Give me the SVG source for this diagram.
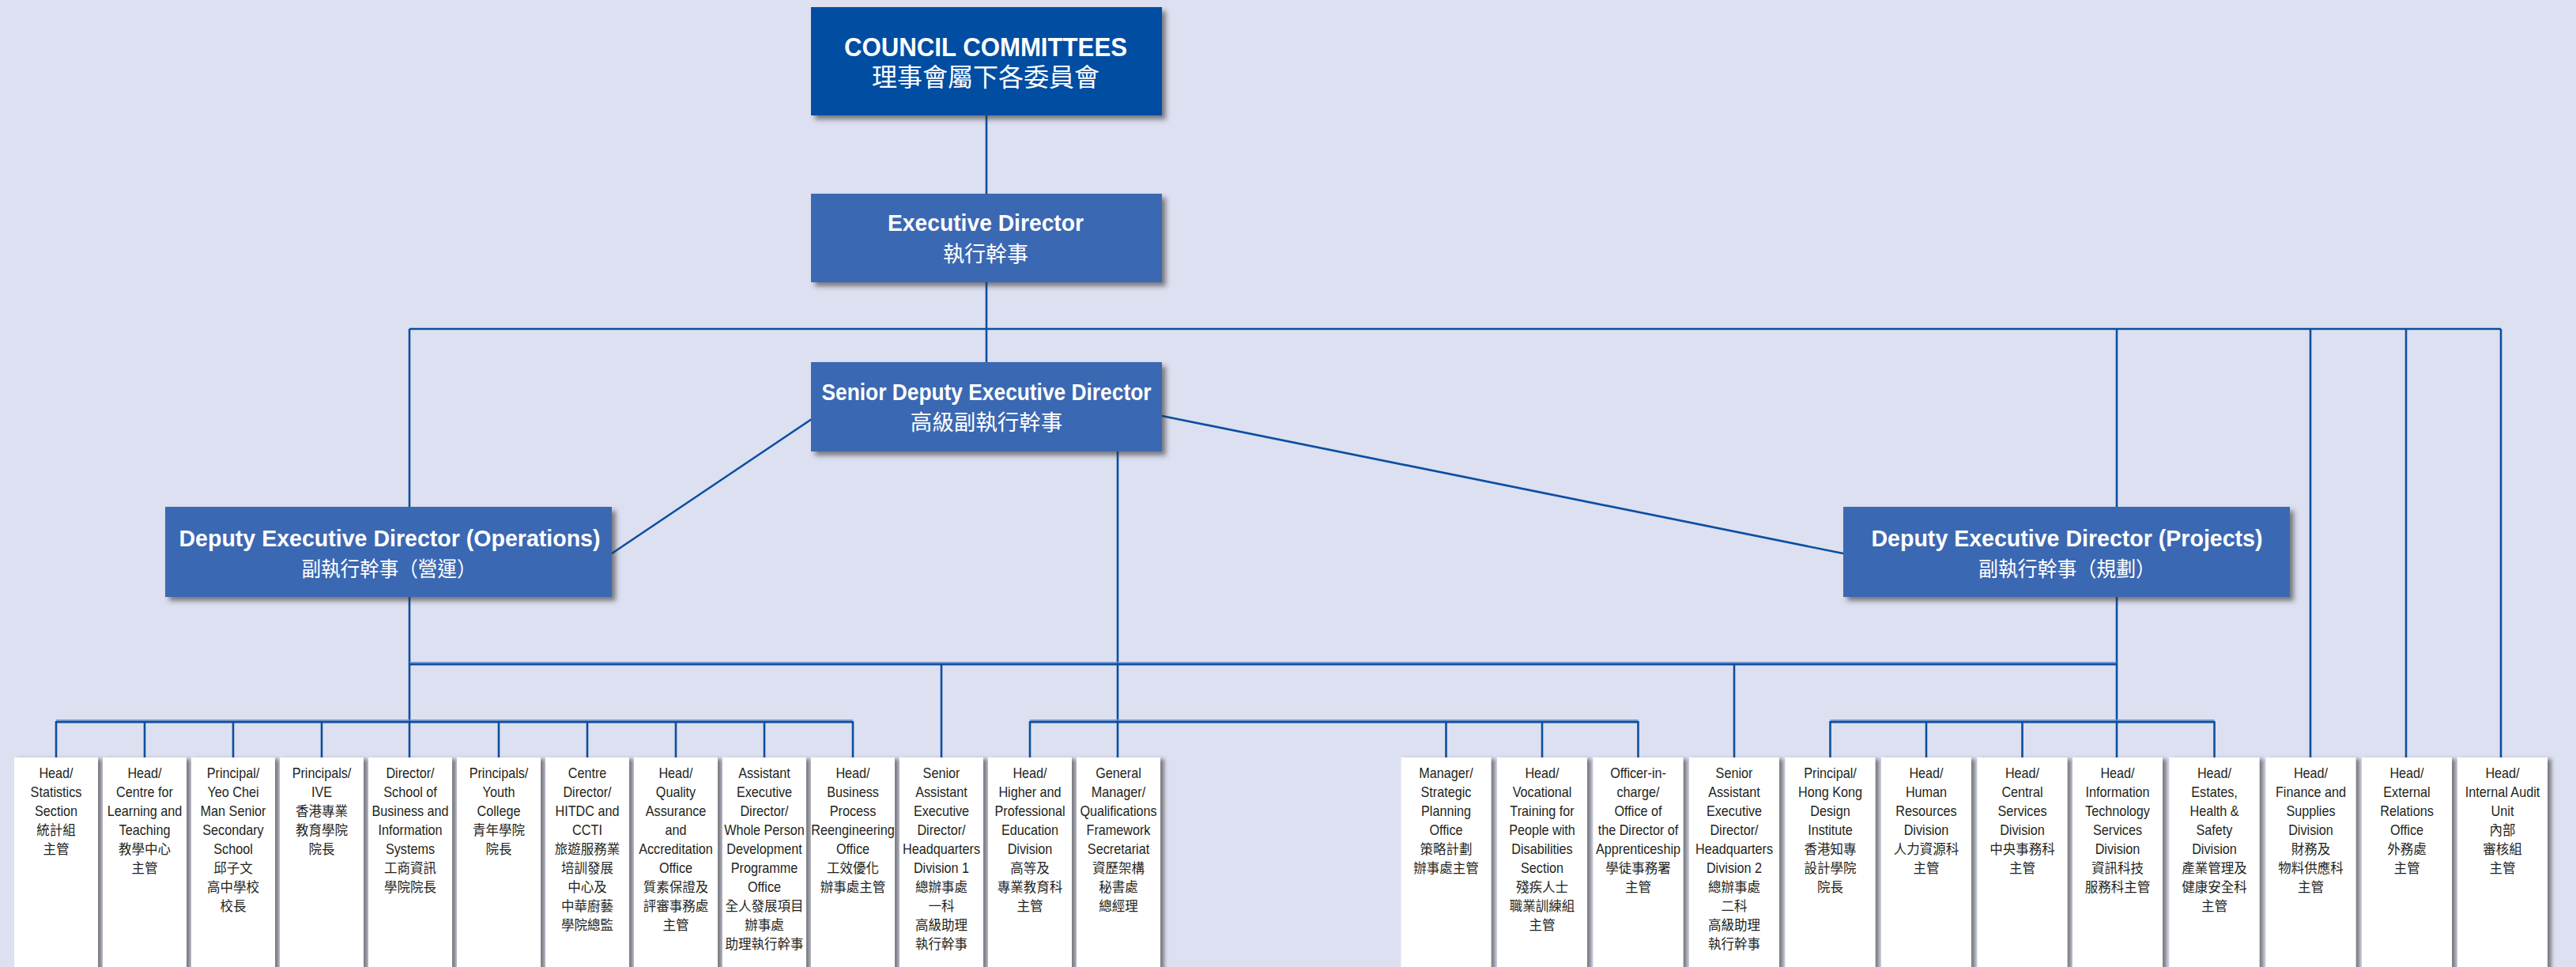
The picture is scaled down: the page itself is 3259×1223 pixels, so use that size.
<svg xmlns="http://www.w3.org/2000/svg" width="3259" height="1223" viewBox="0 0 3259 1223">
<defs>
<filter id="sh" x="-10%" y="-10%" width="130%" height="130%">
<feDropShadow dx="5" dy="5" stdDeviation="3" flood-color="#333" flood-opacity="0.6"/>
</filter>
<filter id="shb" x="-10%" y="-10%" width="130%" height="130%">
<feDropShadow dx="5" dy="2" stdDeviation="2.5" flood-color="#444" flood-opacity="0.65"/>
</filter>
</defs>
<style>
.bg{fill:#DDE0F1}
.hd{fill:#3A68B2;filter:url(#sh)}
.top{fill:#034EA2;filter:url(#sh)}
.box{fill:#FFFFFF;filter:url(#shb)}
.ln{fill:none;stroke:#0B4FA0;stroke-width:2.6}
.bus{fill:none;stroke:#0B4FA0;stroke-width:3.2}
.busl{fill:none;stroke:#7393CC;stroke-width:1.4}
.ht{font-family:"Liberation Sans",Arial,sans-serif;font-weight:bold;fill:#FFFFFF;text-anchor:middle}
.hz{font-family:"Noto Sans CJK TC","Noto Sans CJK SC",sans-serif;fill:#FFFFFF;text-anchor:middle}
.en text{font-family:"Liberation Sans",Arial,sans-serif;font-size:18px;fill:#231F20;text-anchor:middle}
.zh text{font-family:"Noto Sans CJK TC","Noto Sans CJK SC",sans-serif;font-size:16.5px;fill:#231F20;text-anchor:middle}
</style>
<rect class="bg" x="0" y="0" width="3259" height="1223"/>

<g id="connectors">
<path class="ln" d="M1248 146V245M1248 357V458M518 416H3164M518 416V641M2678 416V641M2923 416V958M3044 416V958M3164 416V958"/>
<path class="ln" d="M1027 530L774 700M1470 526L2332 700"/>
<path class="ln" d="M518 755V912M2678 755V912M1414 571V958M1191 839V958M2194 839V958"/>
<path class="ln" d="M71 912V958M183 912V958M295 912V958M407 912V958M518 912V958M631 912V958M743 912V958M855 912V958M967 912V958M1079 912V958M1303 912V958M1829.5 912V958M1951 912V958M2072.5 912V958M2315.5 912V958M2437 912V958M2558.5 912V958M2678 912V958M2801.5 912V958"/>
<path class="bus" d="M518 840H2678M71 913H1079M1303 913H2072.5M2315.5 913H2801.5"/>
<path class="busl" d="M518 837.6H2678M71 910.6H1079M1303 910.6H2072.5M2315.5 910.6H2801.5"/>
</g>

<g id="council">
<rect class="top" x="1026" y="9" width="444" height="137"/>
<text class="ht" x="1247" y="71" font-size="33" textLength="358" lengthAdjust="spacingAndGlyphs">COUNCIL COMMITTEES</text>
<text class="hz" x="1247" y="109" font-size="32">理事會屬下各委員會</text>
</g>

<g id="ed">
<rect class="hd" x="1026" y="245" width="444" height="112"/>
<text class="ht" x="1247" y="292" font-size="30" textLength="248" lengthAdjust="spacingAndGlyphs">Executive Director</text>
<text class="hz" x="1247" y="331" font-size="27">執行幹事</text>
</g>

<g id="sded">
<rect class="hd" x="1026" y="458" width="444" height="113"/>
<text class="ht" x="1248" y="506" font-size="29" textLength="417" lengthAdjust="spacingAndGlyphs">Senior Deputy Executive Director</text>
<text class="hz" x="1248" y="544" font-size="27.5">高級副執行幹事</text>
</g>

<g id="dedops">
<rect class="hd" x="209" y="641" width="565" height="114"/>
<text class="ht" x="493" y="691" font-size="29.5" textLength="533" lengthAdjust="spacingAndGlyphs">Deputy Executive Director (Operations)</text>
<text class="hz" x="492" y="729" font-size="26" textLength="221" lengthAdjust="spacingAndGlyphs">副執行幹事（營運）</text>
</g>

<g id="dedproj">
<rect class="hd" x="2332" y="641" width="565" height="114"/>
<text class="ht" x="2615" y="691" font-size="29.5" textLength="495" lengthAdjust="spacingAndGlyphs">Deputy Executive Director (Projects)</text>
<text class="hz" x="2615" y="729" font-size="26" textLength="224" lengthAdjust="spacingAndGlyphs">副執行幹事（規劃）</text>
</g>

<g id="n01" transform="translate(71 0)"><rect class="box" x="-53" y="958" width="106" height="300"/>
<g class="en" transform="scale(0.9 1)"><text y="984">Head/</text><text y="1008">Statistics</text><text y="1032">Section</text></g>
<g class="zh"><text y="1056">統計組</text><text y="1080">主管</text></g></g>

<g id="n02" transform="translate(183 0)"><rect class="box" x="-53" y="958" width="106" height="300"/>
<g class="en" transform="scale(0.9 1)"><text y="984">Head/</text><text y="1008">Centre for</text><text y="1032">Learning and</text><text y="1056">Teaching</text></g>
<g class="zh"><text y="1080">教學中心</text><text y="1104">主管</text></g></g>

<g id="n03" transform="translate(295 0)"><rect class="box" x="-53" y="958" width="106" height="300"/>
<g class="en" transform="scale(0.9 1)"><text y="984">Principal/</text><text y="1008">Yeo Chei</text><text y="1032">Man Senior</text><text y="1056">Secondary</text><text y="1080">School</text></g>
<g class="zh"><text y="1104">邱子文</text><text y="1128">高中學校</text><text y="1152">校長</text></g></g>

<g id="n04" transform="translate(407 0)"><rect class="box" x="-53" y="958" width="106" height="300"/>
<g class="en" transform="scale(0.9 1)"><text y="984">Principals/</text><text y="1008">IVE</text></g>
<g class="zh"><text y="1032">香港專業</text><text y="1056">教育學院</text><text y="1080">院長</text></g></g>

<g id="n05" transform="translate(519 0)"><rect class="box" x="-53" y="958" width="106" height="300"/>
<g class="en" transform="scale(0.9 1)"><text y="984">Director/</text><text y="1008">School of</text><text y="1032">Business and</text><text y="1056">Information</text><text y="1080">Systems</text></g>
<g class="zh"><text y="1104">工商資訊</text><text y="1128">學院院長</text></g></g>

<g id="n06" transform="translate(631 0)"><rect class="box" x="-53" y="958" width="106" height="300"/>
<g class="en" transform="scale(0.9 1)"><text y="984">Principals/</text><text y="1008">Youth</text><text y="1032">College</text></g>
<g class="zh"><text y="1056">青年學院</text><text y="1080">院長</text></g></g>

<g id="n07" transform="translate(743 0)"><rect class="box" x="-53" y="958" width="106" height="300"/>
<g class="en" transform="scale(0.9 1)"><text y="984">Centre</text><text y="1008">Director/</text><text y="1032">HITDC and</text><text y="1056">CCTI</text></g>
<g class="zh"><text y="1080">旅遊服務業</text><text y="1104">培訓發展</text><text y="1128">中心及</text><text y="1152">中華廚藝</text><text y="1176">學院總監</text></g></g>

<g id="n08" transform="translate(855 0)"><rect class="box" x="-53" y="958" width="106" height="300"/>
<g class="en" transform="scale(0.9 1)"><text y="984">Head/</text><text y="1008">Quality</text><text y="1032">Assurance</text><text y="1056">and</text><text y="1080">Accreditation</text><text y="1104">Office</text></g>
<g class="zh"><text y="1128">質素保證及</text><text y="1152">評審事務處</text><text y="1176">主管</text></g></g>

<g id="n09" transform="translate(967 0)"><rect class="box" x="-53" y="958" width="106" height="300"/>
<g class="en" transform="scale(0.9 1)"><text y="984">Assistant</text><text y="1008">Executive</text><text y="1032">Director/</text><text y="1056">Whole Person</text><text y="1080">Development</text><text y="1104">Programme</text><text y="1128">Office</text></g>
<g class="zh"><text y="1152">全人發展項目</text><text y="1176">辦事處</text><text y="1200">助理執行幹事</text></g></g>

<g id="n10" transform="translate(1079 0)"><rect class="box" x="-53" y="958" width="106" height="300"/>
<g class="en" transform="scale(0.9 1)"><text y="984">Head/</text><text y="1008">Business</text><text y="1032">Process</text><text y="1056">Reengineering</text><text y="1080">Office</text></g>
<g class="zh"><text y="1104">工效優化</text><text y="1128">辦事處主管</text></g></g>

<g id="n11" transform="translate(1191 0)"><rect class="box" x="-53" y="958" width="106" height="300"/>
<g class="en" transform="scale(0.9 1)"><text y="984">Senior</text><text y="1008">Assistant</text><text y="1032">Executive</text><text y="1056">Director/</text><text y="1080">Headquarters</text><text y="1104">Division 1</text></g>
<g class="zh"><text y="1128">總辦事處</text><text y="1152">一科</text><text y="1176">高級助理</text><text y="1200">執行幹事</text></g></g>

<g id="n12" transform="translate(1303 0)"><rect class="box" x="-53" y="958" width="106" height="300"/>
<g class="en" transform="scale(0.9 1)"><text y="984">Head/</text><text y="1008">Higher and</text><text y="1032">Professional</text><text y="1056">Education</text><text y="1080">Division</text></g>
<g class="zh"><text y="1104">高等及</text><text y="1128">專業教育科</text><text y="1152">主管</text></g></g>

<g id="n13" transform="translate(1415 0)"><rect class="box" x="-53" y="958" width="106" height="300"/>
<g class="en" transform="scale(0.9 1)"><text y="984">General</text><text y="1008">Manager/</text><text y="1032">Qualifications</text><text y="1056">Framework</text><text y="1080">Secretariat</text></g>
<g class="zh"><text y="1104">資歷架構</text><text y="1128">秘書處</text><text y="1152">總經理</text></g></g>

<g id="n14" transform="translate(1829.5 0)"><rect class="box" x="-57" y="958" width="114" height="300"/>
<g class="en" transform="scale(0.9 1)"><text y="984">Manager/</text><text y="1008">Strategic</text><text y="1032">Planning</text><text y="1056">Office</text></g>
<g class="zh"><text y="1080">策略計劃</text><text y="1104">辦事處主管</text></g></g>

<g id="n15" transform="translate(1951 0)"><rect class="box" x="-57" y="958" width="114" height="300"/>
<g class="en" transform="scale(0.9 1)"><text y="984">Head/</text><text y="1008">Vocational</text><text y="1032">Training for</text><text y="1056">People with</text><text y="1080">Disabilities</text><text y="1104">Section</text></g>
<g class="zh"><text y="1128">殘疾人士</text><text y="1152">職業訓練組</text><text y="1176">主管</text></g></g>

<g id="n16" transform="translate(2072.5 0)"><rect class="box" x="-57" y="958" width="114" height="300"/>
<g class="en" transform="scale(0.9 1)"><text y="984">Officer-in-</text><text y="1008">charge/</text><text y="1032">Office of</text><text y="1056">the Director of</text><text y="1080">Apprenticeship</text></g>
<g class="zh"><text y="1104">學徒事務署</text><text y="1128">主管</text></g></g>

<g id="n17" transform="translate(2194 0)"><rect class="box" x="-57" y="958" width="114" height="300"/>
<g class="en" transform="scale(0.9 1)"><text y="984">Senior</text><text y="1008">Assistant</text><text y="1032">Executive</text><text y="1056">Director/</text><text y="1080">Headquarters</text><text y="1104">Division 2</text></g>
<g class="zh"><text y="1128">總辦事處</text><text y="1152">二科</text><text y="1176">高級助理</text><text y="1200">執行幹事</text></g></g>

<g id="n18" transform="translate(2315.5 0)"><rect class="box" x="-57" y="958" width="114" height="300"/>
<g class="en" transform="scale(0.9 1)"><text y="984">Principal/</text><text y="1008">Hong Kong</text><text y="1032">Design</text><text y="1056">Institute</text></g>
<g class="zh"><text y="1080">香港知專</text><text y="1104">設計學院</text><text y="1128">院長</text></g></g>

<g id="n19" transform="translate(2437 0)"><rect class="box" x="-57" y="958" width="114" height="300"/>
<g class="en" transform="scale(0.9 1)"><text y="984">Head/</text><text y="1008">Human</text><text y="1032">Resources</text><text y="1056">Division</text></g>
<g class="zh"><text y="1080">人力資源科</text><text y="1104">主管</text></g></g>

<g id="n20" transform="translate(2558.5 0)"><rect class="box" x="-57" y="958" width="114" height="300"/>
<g class="en" transform="scale(0.9 1)"><text y="984">Head/</text><text y="1008">Central</text><text y="1032">Services</text><text y="1056">Division</text></g>
<g class="zh"><text y="1080">中央事務科</text><text y="1104">主管</text></g></g>

<g id="n21" transform="translate(2679 0)"><rect class="box" x="-57" y="958" width="114" height="300"/>
<g class="en" transform="scale(0.9 1)"><text y="984">Head/</text><text y="1008">Information</text><text y="1032">Technology</text><text y="1056">Services</text><text y="1080">Division</text></g>
<g class="zh"><text y="1104">資訊科技</text><text y="1128">服務科主管</text></g></g>

<g id="n22" transform="translate(2801.5 0)"><rect class="box" x="-57" y="958" width="114" height="300"/>
<g class="en" transform="scale(0.9 1)"><text y="984">Head/</text><text y="1008">Estates,</text><text y="1032">Health &amp;</text><text y="1056">Safety</text><text y="1080">Division</text></g>
<g class="zh"><text y="1104">產業管理及</text><text y="1128">健康安全科</text><text y="1152">主管</text></g></g>

<g id="n23" transform="translate(2923.5 0)"><rect class="box" x="-57" y="958" width="114" height="300"/>
<g class="en" transform="scale(0.9 1)"><text y="984">Head/</text><text y="1008">Finance and</text><text y="1032">Supplies</text><text y="1056">Division</text></g>
<g class="zh"><text y="1080">財務及</text><text y="1104">物料供應科</text><text y="1128">主管</text></g></g>

<g id="n24" transform="translate(3045 0)"><rect class="box" x="-57" y="958" width="114" height="300"/>
<g class="en" transform="scale(0.9 1)"><text y="984">Head/</text><text y="1008">External</text><text y="1032">Relations</text><text y="1056">Office</text></g>
<g class="zh"><text y="1080">外務處</text><text y="1104">主管</text></g></g>

<g id="n25" transform="translate(3166 0)"><rect class="box" x="-57" y="958" width="114" height="300"/>
<g class="en" transform="scale(0.9 1)"><text y="984">Head/</text><text y="1008">Internal Audit</text><text y="1032">Unit</text></g>
<g class="zh"><text y="1056">內部</text><text y="1080">審核組</text><text y="1104">主管</text></g></g>
</svg>
